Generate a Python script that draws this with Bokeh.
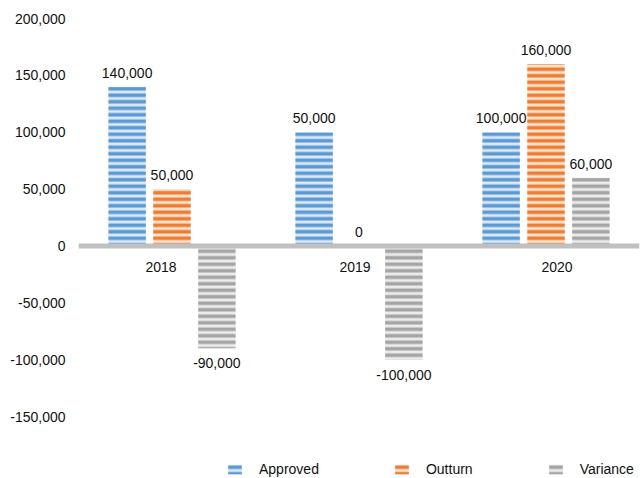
from bokeh.plotting import figure
from bokeh.models import ColumnDataSource, FactorRange, FixedTicker, NumeralTickFormatter, Span, Legend, LegendItem
from bokeh.transform import dodge
from bokeh.core.properties import value
from bokeh.embed import file_html
from bokeh.resources import INLINE

categories = ["2018", "2019", "2020"]
approved = [140000, 100000, 100000]
outturn = [50000, 0, 160000]
variance = [-90000, -100000, 60000]
approved_labels = ["140,000", "50,000", "100,000"]
outturn_labels = ["50,000", "0", "160,000"]
variance_labels = ["-90,000", "-100,000", "60,000"]
y_ticks = [-150000, -100000, -50000, 0, 50000, 100000, 150000, 200000]

FONT = "Liberation Sans"
TXT = "#111111"

# frame extends to the bottom of the page so the legend sits inside it
y_top, y_tick_bottom = 200000, -150000
px_per_unit = 398 / (y_top - y_tick_bottom)
y_bottom = y_tick_bottom - 62 / px_per_unit

p = figure(width=640, height=478, x_range=FactorRange(*categories), y_range=(y_bottom, y_top),
           output_backend="svg", toolbar_location=None,
           min_border_left=78, min_border_right=1, min_border_top=18, min_border_bottom=0)
p.xaxis.visible = False
p.xgrid.visible = False
p.ygrid.visible = False
p.outline_line_color = None
p.background_fill_color = "white"
p.border_fill_color = "white"

ya = p.yaxis[0]
ya.ticker = FixedTicker(ticks=y_ticks)
ya.formatter = NumeralTickFormatter(format="0,0")
ya.axis_line_color = None
ya.major_tick_line_color = None
ya.minor_tick_line_color = None
ya.major_tick_out = 0
ya.major_tick_in = 0
ya.major_label_standoff = 13
ya.major_label_text_font = FONT
ya.major_label_text_font_size = "14px"
ya.major_label_text_color = TXT

series = [
    ("Approved", approved, approved_labels, -0.24, "#5b9bd5", "#dde8f4"),
    ("Outturn", outturn, outturn_labels, 0.0, "#ed7d31", "#fbe3d2"),
    ("Variance", variance, variance_labels, 0.24, "#a5a5a5", "#ececec"),
]

renderers = []
for name, vals, labels, off, col, light in series:
    src = ColumnDataSource(dict(
        cat=categories, val=vals, lbl=labels,
        yoff=[-14 if v >= 0 else 15 for v in vals],
    ))
    r = p.vbar(x=dodge("cat", off, range=p.x_range), top="val", bottom=0, width=0.2, source=src,
               fill_color=light, line_color=None,
               hatch_pattern="horizontal_line", hatch_color=col, hatch_scale=6.5, hatch_weight=3.6)
    renderers.append((name, r))
    p.text(x=dodge("cat", off, range=p.x_range), y="val", text="lbl", y_offset="yoff", source=src,
           text_font=value(FONT), text_font_size="14px", text_color=TXT,
           text_align="center", text_baseline="middle")

p.add_layout(Span(location=0, dimension="width", line_color="#c0c0c0", line_width=5))

cat_src = ColumnDataSource(dict(cat=categories, y=[0] * len(categories), xoff=[-11, -4, 11]))
p.text(x="cat", y="y", text="cat", x_offset="xoff", y_offset=21, source=cat_src,
       text_font=value(FONT), text_font_size="14px", text_color=TXT,
       text_align="center", text_baseline="middle")

legend = Legend(items=[LegendItem(label=n, renderers=[r]) for n, r in renderers],
                orientation="horizontal", location=(148, 1),
                glyph_width=17, glyph_height=12, label_standoff=16, spacing=74,
                padding=0, margin=0, border_line_color=None, background_fill_alpha=0,
                label_text_font=FONT, label_text_font_size="14px", label_text_color=TXT)
p.add_layout(legend)

open("out.html", "w").write(file_html(p, INLINE))
